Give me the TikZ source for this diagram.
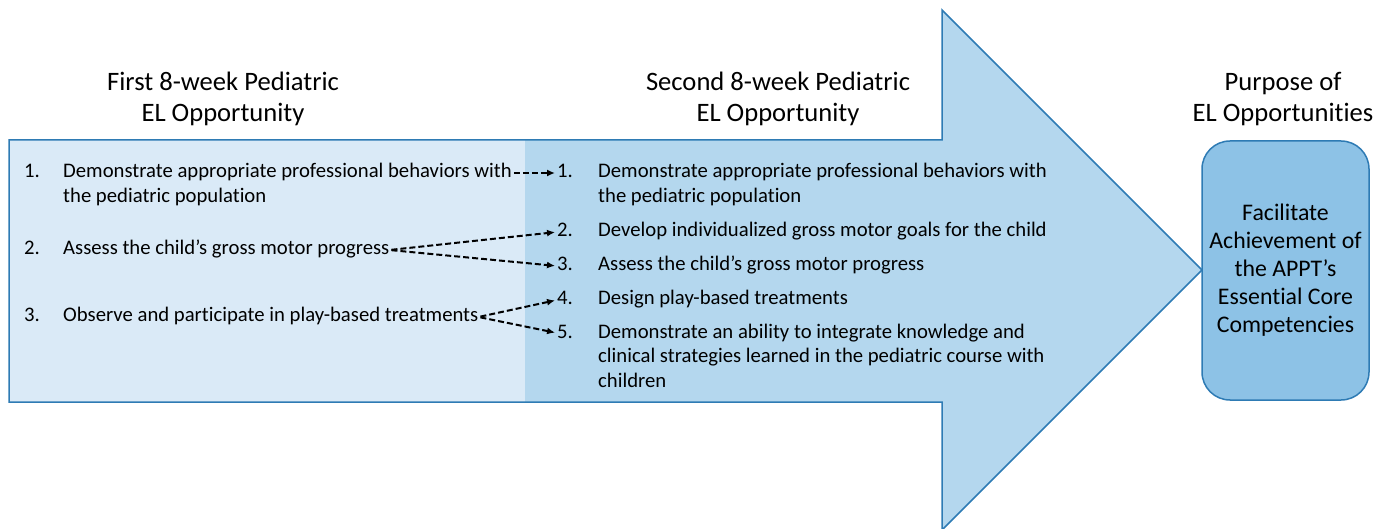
\documentclass[tikz,border=0pt]{standalone}
\usepackage{fontspec}
\setmainfont{Carlito}[Ligatures=NoCommon]
\usetikzlibrary{arrows.meta}

\definecolor{shaftfill}{RGB}{180,215,238}
\definecolor{panelfill}{RGB}{218,234,247}
\definecolor{goalfill}{RGB}{141,194,230}
\definecolor{edgeblue}{RGB}{46,123,180}

\tikzset{
  heading/.style={font=\fontsize{26.6}{31}\selectfont, align=center, inner sep=0pt},
  item/.style={font=\fontsize{20.7}{24.5}\selectfont, anchor=base west, inner sep=0pt,
               text height=14pt, text depth=4pt},
  link/.style={draw=black, line width=2pt, dash pattern=on 6pt off 3pt,
               -{Latex[length=8pt,width=7pt]}, shorten <=2pt, shorten >=2pt},
  goalbox/.style={draw=edgeblue, line width=1.5pt, fill=goalfill, rounded corners=28pt,
                  minimum width=167pt, minimum height=259pt, inner sep=0pt,
                  align=center, font=\fontsize{23.8}{28}\selectfont},
}

\begin{document}
\begin{tikzpicture}[x=1pt,y=-1pt]
\useasboundingbox (0,0) rectangle (1387,529);

% big block arrow with a lighter left panel
\fill[shaftfill] (9,140) -- (942,140) -- (942,10) -- (1202,270) -- (942,530)
  -- (942,402) -- (9,402) -- cycle;
\fill[panelfill] (9,140) rectangle (525,402);
\draw[edgeblue, line width=1.5pt, line join=miter] (9,140) -- (942,140) -- (942,10)
  -- (1202,270) -- (942,530) -- (942,402) -- (9,402) -- cycle;

% column headings
\node[heading] (h1) at (223,99) {First 8-week Pediatric\\EL Opportunity};
\node[heading] (h2) at (778,99) {Second 8-week Pediatric\\EL Opportunity};
\node[heading] (h3) at (1283,99) {Purpose of\\EL Opportunities};

% first opportunity
\node[item] (l1n) at (24,178) {1.};
\node[item] (l1a) at (63,178) {Demonstrate appropriate professional behaviors with};
\node[item] (l1b) at (63,202.5) {the pediatric population};
\node[item] (l2n) at (24,255) {2.};
\node[item] (l2) at (63,255) {Assess the child’s gross motor progress};
\node[item] (l3n) at (24,322) {3.};
\node[item] (l3) at (63,322) {Observe and participate in play-based treatments};

% second opportunity
\node[item] (r1n) at (557,178) {1.};
\node[item] (r1a) at (598,178) {Demonstrate appropriate professional behaviors with};
\node[item] (r1b) at (598,202.5) {the pediatric population};
\node[item] (r2n) at (557,237) {2.};
\node[item] (r2) at (598,237) {Develop individualized gross motor goals for the child};
\node[item] (r3n) at (557,271) {3.};
\node[item] (r3) at (598,271) {Assess the child’s gross motor progress};
\node[item] (r4n) at (557,305) {4.};
\node[item] (r4) at (598,305) {Design play-based treatments};
\node[item] (r5n) at (557,338) {5.};
\node[item] (r5a) at (598,338) {Demonstrate an ability to integrate knowledge and};
\node[item] (r5b) at (598,362.5) {clinical strategies learned in the pediatric course with};
\node[item] (r5c) at (598,387) {children};

% purpose
\node[goalbox] (goal) at (1285.5,270.5)
  {Facilitate\\Achievement of\\the APPT’s\\Essential Core\\Competencies};

% links between the two opportunities
\draw[link] (l1a.east) -- (r1n.west);
\draw[link] (l2.east) -- (r2n.west);
\draw[link] (l2.east) -- (r3n.west);
\draw[link] (l3.east) -- (r4n.west);
\draw[link] (l3.east) -- (r5n.west);
\end{tikzpicture}
\end{document}
